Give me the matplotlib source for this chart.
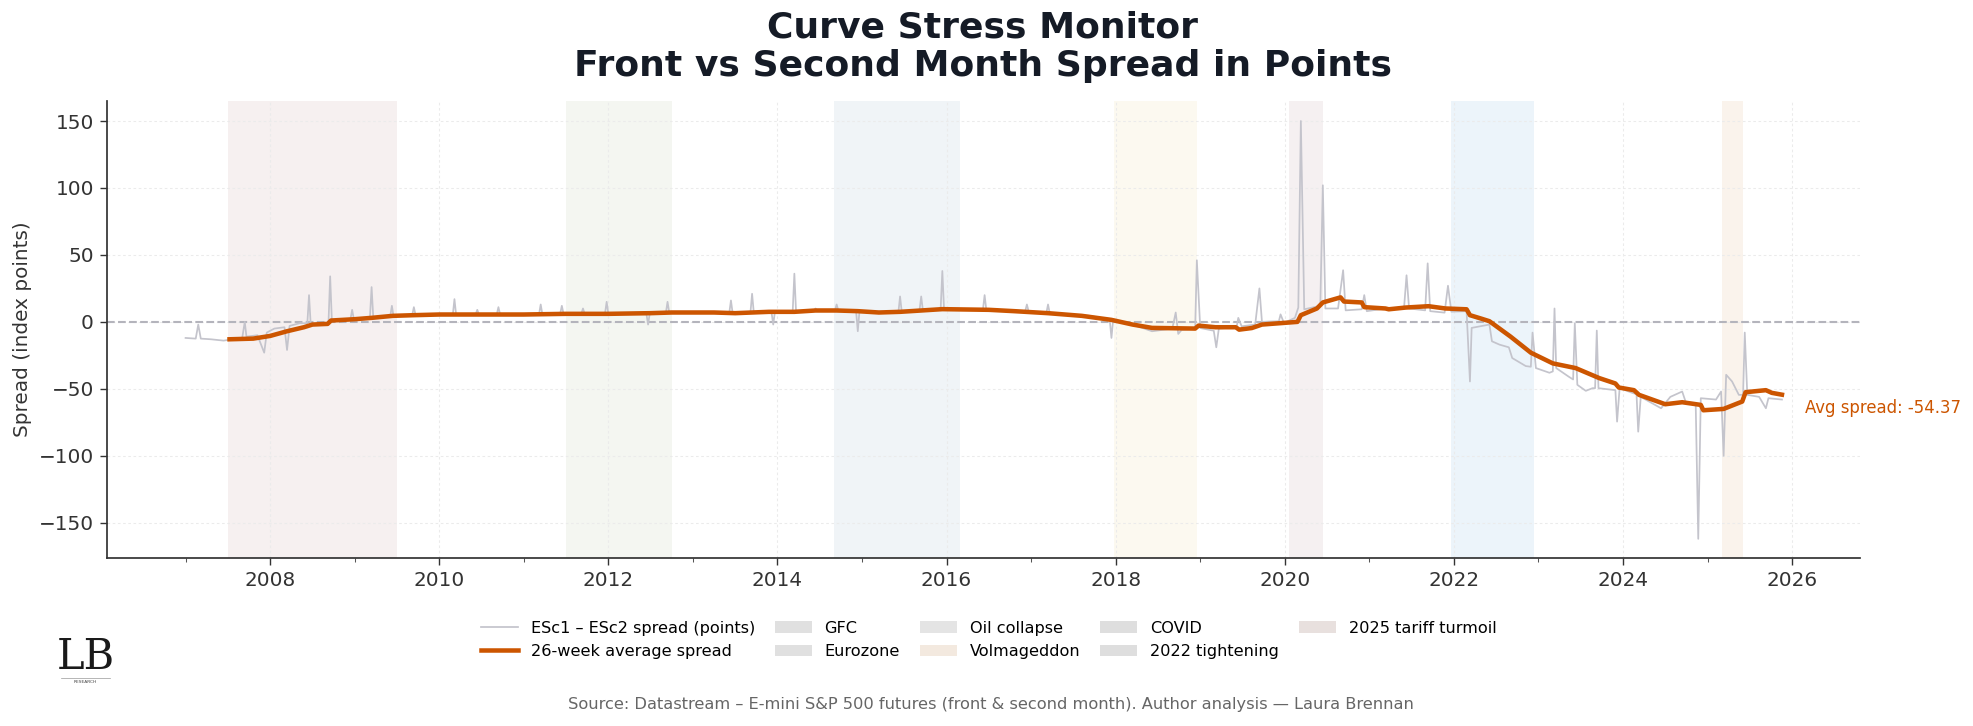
import matplotlib
matplotlib.use("Agg")
import matplotlib.pyplot as plt
from matplotlib.lines import Line2D
from matplotlib.patches import Patch
import numpy as np

# ---------------- data (decimal years) ----------------
gray_t = [
    2007.00, 2007.12, 2007.15, 2007.18, 2007.30, 2007.45, 2007.55, 2007.67, 2007.70, 2007.72,
    2007.85, 2007.93, 2007.96, 2008.05, 2008.17, 2008.20, 2008.23, 2008.35, 2008.44, 2008.46,
    2008.48, 2008.60, 2008.69, 2008.71, 2008.73, 2008.85, 2008.95, 2008.97, 2008.99, 2009.10,
    2009.18, 2009.20, 2009.22, 2009.35, 2009.42, 2009.44, 2009.46, 2009.60, 2009.68, 2009.70,
    2009.72, 2009.95, 2010.16, 2010.18, 2010.20, 2010.43, 2010.45, 2010.47, 2010.68, 2010.70,
    2010.72, 2010.95, 2011.18, 2011.20, 2011.22, 2011.43, 2011.45, 2011.47, 2011.68, 2011.70,
    2011.72, 2011.96, 2011.98, 2012.00, 2012.20, 2012.45, 2012.47, 2012.49, 2012.68, 2012.70,
    2012.72, 2012.95, 2013.20, 2013.43, 2013.45, 2013.47, 2013.68, 2013.70, 2013.72, 2013.93,
    2013.95, 2013.97, 2014.18, 2014.20, 2014.22, 2014.43, 2014.45, 2014.47, 2014.68, 2014.70,
    2014.72, 2014.93, 2014.95, 2014.97, 2015.20, 2015.43, 2015.45, 2015.47, 2015.68, 2015.70,
    2015.72, 2015.93, 2015.95, 2015.97, 2016.20, 2016.43, 2016.45, 2016.47, 2016.70, 2016.93,
    2016.95, 2016.97, 2017.18, 2017.20, 2017.22, 2017.45, 2017.70, 2017.93, 2017.95, 2017.97,
    2018.20, 2018.43, 2018.67, 2018.71, 2018.74, 2018.78, 2018.94, 2018.96, 2019.00, 2019.16,
    2019.19, 2019.22, 2019.43, 2019.45, 2019.49, 2019.65, 2019.70, 2019.73, 2019.93, 2019.95,
    2019.99, 2020.12, 2020.16, 2020.19, 2020.23, 2020.42, 2020.45, 2020.48, 2020.63, 2020.69,
    2020.72, 2020.91, 2020.94, 2020.97, 2021.19, 2021.41, 2021.44, 2021.47, 2021.66, 2021.69,
    2021.72, 2021.89, 2021.93, 2021.97, 2022.15, 2022.19, 2022.21, 2022.38, 2022.42, 2022.45,
    2022.54, 2022.65, 2022.69, 2022.85, 2022.91, 2022.93, 2022.97, 2023.13, 2023.17, 2023.19,
    2023.21, 2023.36, 2023.41, 2023.43, 2023.46, 2023.56, 2023.64, 2023.67, 2023.69, 2023.71,
    2023.91, 2023.93, 2023.96, 2024.11, 2024.16, 2024.18, 2024.21, 2024.35, 2024.45, 2024.56,
    2024.70, 2024.74, 2024.86, 2024.89, 2024.92, 2025.10, 2025.16, 2025.19, 2025.22, 2025.29,
    2025.37, 2025.42, 2025.44, 2025.47, 2025.61, 2025.69, 2025.72, 2025.88,
]
gray_v = [
    -12, -12.5, -2, -12.5, -13, -14, -13, -12, 0, -11,
    -10, -23, -8, -5, -4, -21, -3, -1, -1, 20,
    -2, -1, -1, 34, 1, 1, 2, 9, 2, 2,
    3, 26, 3, 4, 4, 12, 4, 5, 5, 11,
    5, 5, 5, 17, 5, 5.5, 9, 5.5, 5.5, 11,
    5.5, 5.5, 5.5, 13, 5.5, 6, 12, 6, 6, 10,
    6, 6, 15, 6, 6, 6, -2, 6.5, 6.5, 15,
    7, 7, 7, 6.5, 16, 6.5, 6.5, 21, 7, 7,
    -2, 7.5, 7.5, 36, 7.5, 8, 10, 8.5, 8.5, 13,
    8.5, 8, -7, 8, 7, 7, 19, 7.5, 8.5, 19,
    8.5, 9.5, 38, 9.5, 9.5, 9, 20, 9, 8.5, 8,
    13, 8, 6.5, 13, 6.5, 5.5, 4.5, 1.5, -12, 1.5,
    -2, -7, -5, 7, -9, -6, -5, 46, -4.6, -6.6,
    -19, -5, -4, 3, -3.3, -2, 25, 0, 0.5, 5.6,
    -0.8, 3, 10.7, 150, 9.4, 12, 102, 10, 10, 38.6,
    8.6, 9.4, 20, 8, 10, 10, 34.8, 10, 8.6, 43.7,
    8, 6.9, 27, 7.6, 8, -44.5, -4.5, -2.5, -2, -14.5,
    -17, -19, -27, -33, -33.5, -8, -34.5, -38, -37, 10,
    -34.5, -41, -43, -1, -47, -51.5, -49.5, -49.5, -6.5, -49.5,
    -51, -74.5, -49.5, -53, -54, -82, -56, -61, -64.5, -56,
    -52, -59.5, -62, -162, -57, -58, -52, -100, -39.5, -44.5,
    -54.5, -54.5, -8, -54.5, -56, -64.5, -57, -58,
]

avg_t = [
    2007.52, 2007.80, 2008.00, 2008.20, 2008.40, 2008.50, 2008.68, 2008.72, 2009.00, 2009.20,
    2009.45, 2009.70, 2010.00, 2010.50, 2011.00, 2011.50, 2012.00, 2012.50, 2012.75, 2013.25,
    2013.50, 2013.90, 2014.20, 2014.45, 2014.70, 2014.95, 2015.20, 2015.45, 2015.70, 2015.95,
    2016.50, 2016.80, 2017.20, 2017.60, 2017.95, 2018.20, 2018.43, 2018.94, 2018.98, 2019.18,
    2019.42, 2019.46, 2019.61, 2019.73, 2020.15, 2020.19, 2020.38, 2020.45, 2020.66, 2020.70,
    2020.91, 2020.94, 2021.19, 2021.23, 2021.43, 2021.70, 2021.90, 2022.15, 2022.19, 2022.33,
    2022.42, 2022.67, 2022.91, 2023.17, 2023.44, 2023.72, 2023.91, 2023.95, 2024.13, 2024.19,
    2024.50, 2024.70, 2024.92, 2024.95, 2025.19, 2025.41, 2025.45, 2025.69, 2025.76, 2025.88,
]
avg_v = [
    -13, -12.5, -10.5, -7, -4, -2, -1.5, 1, 2, 3,
    4.5, 5, 5.5, 5.5, 5.5, 6, 6, 6.5, 7, 7,
    6.5, 7.5, 7.5, 8.5, 8.5, 8, 7, 7.5, 8.5, 9.5,
    9, 8, 6.5, 4.5, 1.5, -2, -4.5, -5, -2.8, -4,
    -4, -5.8, -4.6, -2, 0, 5, 10, 14.5, 18.3, 15.2,
    14.5, 11, 10, 9.4, 10.7, 11.7, 10, 9.4, 5, 2.3,
    0.5, -11, -23, -31, -34.5, -42, -46, -49, -51, -54.5,
    -61.5, -60, -62, -66, -65, -59.5, -52.5, -51, -53, -54.37,
]

event_names = ["GFC", "Eurozone", "Oil collapse", "Volmageddon", "COVID",
               "2022 tightening", "2025 tariff turmoil"]
event_start = [2007.50, 2011.50, 2014.67, 2017.98, 2020.05, 2021.97, 2025.17]
event_end = [2009.50, 2012.75, 2016.16, 2018.96, 2020.45, 2022.95, 2025.42]
event_colors = ["#f6f0f0", "#f4f6f1", "#f0f4f7", "#fcf9f0", "#f5f0f1", "#ecf4fa", "#faf3ec"]
event_legend_colors = ["#e0e0e0", "#e0e0e0", "#e4e4e4", "#f3e9df", "#dedede", "#dedede", "#e8e0de"]

avg_label = -54.37

# ---------------- figure ----------------
fig = plt.figure(figsize=(1973 / 125, 726 / 125), dpi=125)
ax = fig.add_axes([0.0542, 0.232, 0.8884, 0.629])

for s, e, c in zip(event_start, event_end, event_colors):
    ax.axvspan(s, e, color=c, lw=0, zorder=0)

ax.plot(gray_t, gray_v, color="#c4c4cc", lw=1.0, zorder=2)
ax.plot(avg_t, avg_v, color="#cc5500", lw=2.6, zorder=3)
ax.axhline(0, color="#b4b4bc", ls="--", lw=1.2, zorder=1)

ax.set_xlim(2006.07, 2026.8)
ax.set_ylim(-176, 165)
ax.set_xticks(np.arange(2008, 2027, 2))
ax.set_xticklabels([str(y) for y in range(2008, 2027, 2)])
ax.set_xticks(np.arange(2007, 2027, 1), minor=True)
ax.set_yticks([-150, -100, -50, 0, 50, 100, 150])
ax.grid(True, which="major", color="#ebebeb", ls=(0, (2.5, 2.5)), lw=0.6, zorder=0)
ax.set_axisbelow(True)

for sp in ["top", "right"]:
    ax.spines[sp].set_visible(False)
for sp in ["left", "bottom"]:
    ax.spines[sp].set_color("#333333")
    ax.spines[sp].set_linewidth(1.0)
ax.tick_params(axis="both", which="major", labelsize=11.5, colors="#333333", length=4)
ax.tick_params(axis="x", which="minor", length=2.5, colors="#555555")
ax.set_ylabel("Spread (index points)", fontsize=11.5, color="#333333")

ax.text(avg_t[-1] + 0.27, avg_label - 10, f"Avg spread: {avg_label:.2f}", color="#cc5500",
        fontsize=9.5, ha="left", va="center", clip_on=False)

fig.text(0.498, 0.985, "Curve Stress Monitor\nFront vs Second Month Spread in Points",
         ha="center", va="top", fontsize=20.8, fontweight="bold", color="#151b26",
         linespacing=1.15)

handles = [
    Line2D([], [], color="#c4c4cc", lw=1.0, label="ESc1 \u2013 ESc2 spread (points)"),
    Line2D([], [], color="#cc5500", lw=2.6, label="26-week average spread"),
]
for n, c in zip(event_names, event_legend_colors):
    handles.append(Patch(facecolor=c, edgecolor="none", label=n))
fig.legend(handles=handles, loc="upper center", bbox_to_anchor=(0.501, 0.165), ncol=5,
           frameon=False, fontsize=9.3, handlelength=2.3, columnspacing=1.22,
           labelspacing=0.5, handletextpad=0.8)

fig.text(0.502, 0.029, "Source: Datastream \u2013 E-mini S&P 500 futures (front & second month). "
         "Author analysis \u2014 Laura Brennan", ha="center", va="center", fontsize=9.35,
         color="#666666")

fig.text(0.0434, 0.095, "LB", ha="center", va="center", fontsize=24,
         family="DejaVu Serif", color="#1a1a1a")
fig.add_artist(Line2D([0.031, 0.056], [0.066, 0.066], transform=fig.transFigure,
                      color="#999999", lw=0.4))
fig.text(0.0434, 0.061, "RESEARCH", ha="center", va="center", fontsize=2.5, color="#444444")

fig.savefig("out.png", dpi=125)
